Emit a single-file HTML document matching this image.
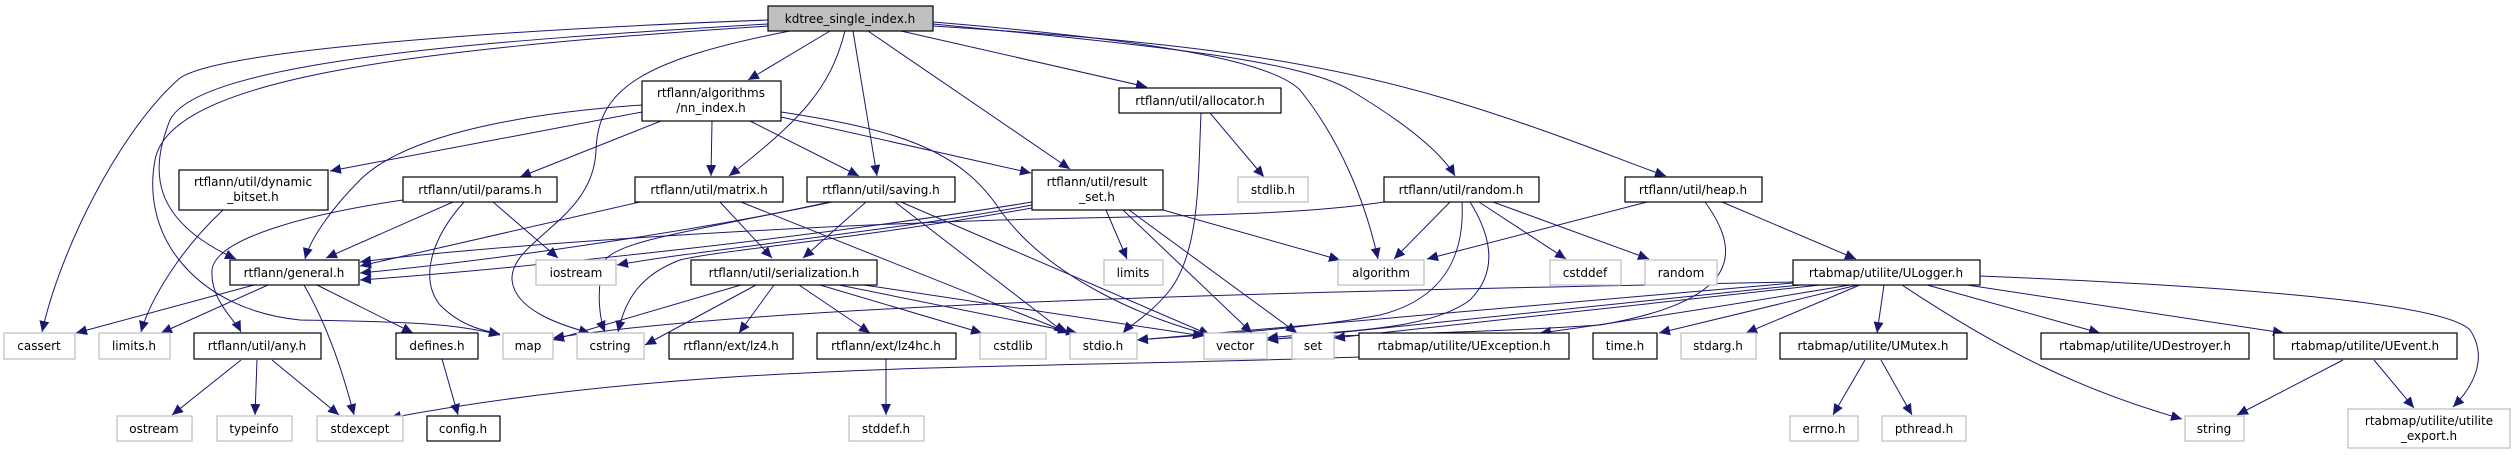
<!DOCTYPE html>
<html><head><meta charset="utf-8"><style>
html,body{margin:0;padding:0;background:#fff;}
svg{display:block;}
text{font-family:"DejaVu Sans","Liberation Sans",sans-serif;font-size:12px;fill:#000;}
.n{fill:#fff;stroke:#000;stroke-width:1.2}
.g{fill:#fff;stroke:#bfbfbf;stroke-width:1.2}
.e{fill:none;stroke:#191970;stroke-width:1}
</style></head><body>
<svg width="2515" height="455" viewBox="0 0 2515 455" xmlns="http://www.w3.org/2000/svg">
<defs><marker id="a" markerUnits="userSpaceOnUse" markerWidth="12" markerHeight="10" refX="11" refY="5" orient="auto"><path d="M0,0 L11,5 L0,10 z" fill="#191970"/></marker></defs>
<g class="e" marker-end="url(#a)">
<path d="M768,20 C500,30 220,50 180,78 C120,130 60,250 42,332"/>
<path d="M768,24 C500,40 200,60 170,120 C150,170 150,220 236,259"/>
<path d="M768,26 C400,50 170,80 155,160 C140,240 200,310 300,320 C400,322 450,322 500,335"/>
<path d="M790,31 C640,60 598,90 596,150 C594,220 510,240 512,280 C515,310 560,325 590,333"/>
<path d="M830,31 L748,80"/>
<path d="M845,31 C830,90 800,120 729,176"/>
<path d="M853,31 L877,176"/>
<path d="M868,31 L1070,169"/>
<path d="M901,31 L1147,87"/>
<path d="M933,22 C1150,40 1270,60 1300,90 C1340,140 1365,200 1378,259"/>
<path d="M933,24 C1150,45 1300,60 1350,90 C1400,120 1440,150 1455,176"/>
<path d="M933,26 C1150,40 1300,55 1450,100 C1550,130 1620,160 1666,176"/>
<path d="M642,112 L330,171"/>
<path d="M642,105 C500,115 400,140 360,180 C330,210 310,240 305,259"/>
<path d="M661,121 L520,177"/>
<path d="M712,121 L711,176"/>
<path d="M750,121 L859,176"/>
<path d="M781,117 L1031,173"/>
<path d="M781,112 C900,130 960,150 1000,210 C1050,280 1150,320 1210,335"/>
<path d="M223,210 C180,250 150,300 141,332"/>
<path d="M403,200 C300,215 215,240 212,270 C210,300 235,320 241,332"/>
<path d="M453,202 L326,258"/>
<path d="M464,202 C430,240 420,280 440,305 C460,325 480,330 500,334"/>
<path d="M493,202 L558,258"/>
<path d="M640,202 L360,266"/>
<path d="M720,202 L772,258"/>
<path d="M741,202 L1069,333"/>
<path d="M832,202 C700,230 500,260 360,273"/>
<path d="M866,202 L803,258"/>
<path d="M830,202 C700,230 620,240 605,260 C595,290 600,320 605,332"/>
<path d="M895,202 L1065,333"/>
<path d="M901,202 L1210,335"/>
<path d="M1032,202 C800,240 500,270 360,280"/>
<path d="M1032,205 C900,230 700,250 617,265"/>
<path d="M1163,210 L1340,260"/>
<path d="M1106,210 L1127,259"/>
<path d="M1123,210 L1252,333"/>
<path d="M1129,210 L1297,333"/>
<path d="M1032,208 C850,240 720,250 680,260 C640,275 625,300 618,332"/>
<path d="M1210,113 L1264,177"/>
<path d="M1201,113 C1198,180 1200,250 1170,290 C1150,315 1130,325 1123,333"/>
<path d="M254,285 L76,333"/>
<path d="M268,285 L161,333"/>
<path d="M317,285 L413,333"/>
<path d="M304,285 C330,330 345,380 354,415"/>
<path d="M241,360 L172,415"/>
<path d="M257,360 L255,415"/>
<path d="M272,360 L339,415"/>
<path d="M442,359 L458,415"/>
<path d="M741,285 L553,340"/>
<path d="M756,285 L645,345"/>
<path d="M774,285 L739,333"/>
<path d="M799,285 L870,333"/>
<path d="M820,285 L982,333"/>
<path d="M839,285 L1077,333"/>
<path d="M864,285 L1204,336"/>
<path d="M886,359 L886,415"/>
<path d="M1384,202 C1300,215 1200,215 1000,220 C700,230 450,250 360,262"/>
<path d="M1450,202 L1394,259"/>
<path d="M1479,202 L1566,259"/>
<path d="M1493,202 L1649,259"/>
<path d="M1462,202 C1465,260 1440,300 1380,315 C1300,330 1200,335 1137,340"/>
<path d="M1470,202 C1500,250 1490,280 1470,300 C1430,330 1350,330 1267,338"/>
<path d="M1647,202 L1427,259"/>
<path d="M1722,202 L1856,259"/>
<path d="M1705,202 C1740,250 1745,300 1600,325 C1450,335 1300,335 1267,340"/>
<path d="M1793,282 C1400,290 800,300 553,338"/>
<path d="M1793,283 L1137,340"/>
<path d="M1800,285 L1267,340"/>
<path d="M1820,285 L1334,338"/>
<path d="M1850,285 C1700,310 1600,325 1540,333"/>
<path d="M1858,285 L1659,333"/>
<path d="M1860,285 L1746,333"/>
<path d="M1884,285 L1877,333"/>
<path d="M1927,285 L2100,333"/>
<path d="M1967,285 L2284,333"/>
<path d="M1902,285 C2000,350 2080,390 2182,419"/>
<path d="M1980,276 C2200,285 2440,300 2470,330 C2490,360 2470,390 2453,407"/>
<path d="M1865,360 L1833,415"/>
<path d="M1881,360 L1912,415"/>
<path d="M2343,360 L2237,415"/>
<path d="M2374,360 L2414,408"/>
<path d="M1359,357 C1000,370 700,360 390,418"/>
</g>
<g text-anchor="middle">
<rect x="768" y="6" width="165" height="25" fill="#bfbfbf" stroke="#000" stroke-width="1.2"/><text x="850" y="23">kdtree_single_index.h</text>
<rect class="n" x="642" y="81" width="139" height="40"/><text x="711" y="97">rtflann/algorithms</text><text x="711" y="112">/nn_index.h</text>
<rect class="n" x="1119" y="88" width="162" height="25"/><text x="1200" y="105">rtflann/util/allocator.h</text>
<rect class="n" x="179" y="170" width="149" height="40"/><text x="253" y="186">rtflann/util/dynamic</text><text x="253" y="201">_bitset.h</text>
<rect class="n" x="403" y="177" width="154" height="25"/><text x="480" y="194">rtflann/util/params.h</text>
<rect class="n" x="635" y="177" width="148" height="25"/><text x="709" y="194">rtflann/util/matrix.h</text>
<rect class="n" x="807" y="177" width="148" height="25"/><text x="881" y="194">rtflann/util/saving.h</text>
<rect class="n" x="1032" y="170" width="131" height="40"/><text x="1097" y="186">rtflann/util/result</text><text x="1097" y="201">_set.h</text>
<rect class="g" x="1238" y="177" width="70" height="25"/><text x="1273" y="194">stdlib.h</text>
<rect class="n" x="1384" y="177" width="155" height="25"/><text x="1461" y="194">rtflann/util/random.h</text>
<rect class="n" x="1625" y="177" width="137" height="25"/><text x="1693" y="194">rtflann/util/heap.h</text>
<rect class="n" x="230" y="260" width="129" height="25"/><text x="294" y="277">rtflann/general.h</text>
<rect class="g" x="536" y="260" width="80" height="25"/><text x="576" y="277">iostream</text>
<rect class="n" x="691" y="260" width="186" height="25"/><text x="784" y="277">rtflann/util/serialization.h</text>
<rect class="g" x="1104" y="260" width="59" height="25"/><text x="1133" y="277">limits</text>
<rect class="g" x="1338" y="260" width="86" height="25"/><text x="1381" y="277">algorithm</text>
<rect class="g" x="1550" y="260" width="71" height="25"/><text x="1585" y="277">cstddef</text>
<rect class="g" x="1645" y="260" width="72" height="25"/><text x="1681" y="277">random</text>
<rect class="n" x="1793" y="260" width="187" height="25"/><text x="1886" y="277">rtabmap/utilite/ULogger.h</text>
<rect class="g" x="4" y="333" width="71" height="26"/><text x="39" y="350">cassert</text>
<rect class="g" x="99" y="333" width="71" height="26"/><text x="134" y="350">limits.h</text>
<rect class="n" x="194" y="333" width="127" height="26"/><text x="257" y="350">rtflann/util/any.h</text>
<rect class="n" x="396" y="333" width="82" height="26"/><text x="437" y="350">defines.h</text>
<rect class="g" x="503" y="333" width="50" height="26"/><text x="528" y="350">map</text>
<rect class="g" x="577" y="333" width="67" height="26"/><text x="610" y="350">cstring</text>
<rect class="n" x="669" y="333" width="124" height="26"/><text x="731" y="350">rtflann/ext/lz4.h</text>
<rect class="n" x="817" y="333" width="139" height="26"/><text x="886" y="350">rtflann/ext/lz4hc.h</text>
<rect class="g" x="980" y="333" width="66" height="26"/><text x="1013" y="350">cstdlib</text>
<rect class="g" x="1070" y="333" width="67" height="26"/><text x="1103" y="350">stdio.h</text>
<rect class="g" x="1204" y="333" width="63" height="26"/><text x="1235" y="350">vector</text>
<rect class="g" x="1292" y="333" width="42" height="26"/><text x="1313" y="350">set</text>
<rect class="n" x="1359" y="333" width="210" height="26"/><text x="1464" y="350">rtabmap/utilite/UException.h</text>
<rect class="n" x="1593" y="333" width="64" height="26"/><text x="1625" y="350">time.h</text>
<rect class="g" x="1681" y="333" width="75" height="26"/><text x="1718" y="350">stdarg.h</text>
<rect class="n" x="1780" y="333" width="187" height="26"/><text x="1873" y="350">rtabmap/utilite/UMutex.h</text>
<rect class="n" x="2041" y="333" width="208" height="26"/><text x="2145" y="350">rtabmap/utilite/UDestroyer.h</text>
<rect class="n" x="2274" y="333" width="183" height="26"/><text x="2365" y="350">rtabmap/utilite/UEvent.h</text>
<rect class="g" x="117" y="416" width="75" height="25"/><text x="154" y="433">ostream</text>
<rect class="g" x="217" y="416" width="75" height="25"/><text x="254" y="433">typeinfo</text>
<rect class="g" x="317" y="416" width="86" height="25"/><text x="360" y="433">stdexcept</text>
<rect class="n" x="427" y="416" width="73" height="25"/><text x="463" y="433">config.h</text>
<rect class="g" x="849" y="416" width="75" height="25"/><text x="886" y="433">stddef.h</text>
<rect class="g" x="1790" y="416" width="68" height="25"/><text x="1824" y="433">errno.h</text>
<rect class="g" x="1882" y="416" width="84" height="25"/><text x="1924" y="433">pthread.h</text>
<rect class="g" x="2185" y="416" width="59" height="25"/><text x="2214" y="433">string</text>
<rect class="g" x="2348" y="409" width="162" height="39"/><text x="2429" y="425">rtabmap/utilite/utilite</text><text x="2429" y="440">_export.h</text>
</g>
</svg>
</body></html>
